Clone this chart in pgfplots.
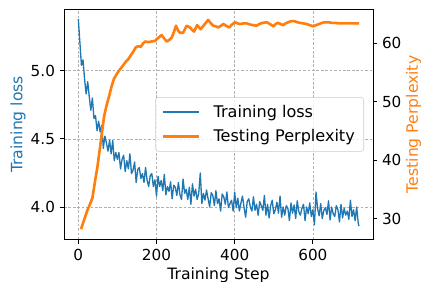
\documentclass[border=0pt]{standalone}
\usepackage{pgfplots}
\pgfplotsset{compat=1.18}
\usepackage{fontspec}
\setmainfont{DejaVu Sans}
\definecolor{cA}{HTML}{1F77B4}
\definecolor{cB}{HTML}{FF7F0E}
\definecolor{gridc}{HTML}{B0B0B0}
\definecolor{legc}{HTML}{CCCCCC}
\pgfplotstableread{
x y
0 5.38
4 5.21
8 5.04
12 5.08
16 4.94
20 4.83
24 4.92
28 4.81
32 4.71
36 4.80
40 4.65
44 4.67
48 4.56
52 4.63
56 4.55
60 4.60
64 4.43
68 4.52
72 4.47
76 4.41
80 4.49
84 4.39
88 4.49
92 4.34
96 4.40
100 4.35
104 4.40
108 4.28
112 4.35
116 4.38
120 4.26
124 4.34
128 4.28
132 4.39
136 4.245
140 4.27
144 4.33
148 4.18
152 4.275
156 4.29
160 4.21
164 4.245
168 4.18
172 4.29
176 4.195
180 4.15
184 4.23
188 4.245
192 4.15
196 4.20
200 4.08
204 4.225
208 4.15
212 4.195
216 4.12
220 4.24
224 4.09
228 4.15
232 4.115
236 4.185
240 4.06
244 4.16
248 4.145
252 4.085
256 4.18
260 4.09
264 4.055
268 4.205
272 4.10
276 4.13
280 4.055
284 4.145
288 4.02
292 4.17
296 4.08
300 4.13
304 4.055
308 4.10
312 4.25
316 4.025
320 4.10
324 4.05
328 4.125
332 4.06
336 4.00
340 4.105
344 4.085
348 4.01
352 4.12
356 4.025
360 4.06
364 3.97
368 4.095
372 4.075
376 4.02
380 4.11
384 3.995
388 4.025
392 4.05
396 3.97
400 4.11
404 3.995
408 4.065
412 3.97
416 4.03
420 4.08
424 3.995
428 3.925
432 4.04
436 4.06
440 4.00
444 3.97
448 4.075
452 3.975
456 4.02
460 3.94
464 4.04
468 4.01
472 3.975
476 4.085
480 3.94
484 4.02
488 3.92
492 4.01
496 4.05
500 3.95
504 3.98
508 4.035
512 3.955
516 4.08
520 3.925
524 4.00
528 3.94
532 4.01
536 3.99
540 3.90
544 4.03
548 3.955
552 4.015
556 3.915
560 4.045
564 3.965
568 3.94
572 3.99
576 4.02
580 3.90
584 4.00
588 3.95
592 4.03
596 3.93
600 3.98
604 3.87
608 4.11
612 3.99
616 3.935
620 4.025
624 3.915
628 3.975
632 3.995
636 3.945
640 4.045
644 3.905
648 4.00
652 3.95
656 3.93
660 4.01
664 3.98
668 3.89
672 4.02
676 3.92
680 3.99
684 3.94
688 3.97
692 3.91
696 4.05
700 3.93
704 3.98
708 3.90
712 4.00
716 3.88
718 3.86
}\losstable
\pgfplotstableread{
x y
7 28.2
15 29.8
23 31.4
30 32.5
36 33.5
43 36.5
49 38.9
55 41.9
60 44.5
66 47.5
72 49.3
79 51.0
85 52.6
91 53.9
98 54.7
104 55.3
112 56.0
121 56.8
128 57.3
134 57.9
140 58.5
147 59.3
153 59.5
160 59.4
166 60.0
171 60.3
179 60.2
187 60.3
196 60.4
204 60.9
213 61.4
220 60.8
226 60.3
233 60.6
239 61.0
245 62.0
250 63.0
255 62.2
260 61.8
268 61.8
277 63.0
286 62.7
291 62.3
296 62.0
304 63.1
313 62.4
320 63.0
324 63.3
332 64.0
338 63.5
345 63.0
352 62.9
358 62.7
365 63.0
371 63.3
378 63.0
386 62.7
393 63.2
401 63.6
407 63.4
414 63.3
422 63.4
431 63.4
440 63.2
448 63.1
456 63.0
463 63.3
472 63.5
482 63.6
490 63.3
499 62.9
505 63.3
510 63.5
517 63.3
524 63.1
530 63.4
537 63.6
545 63.8
552 63.8
560 63.6
567 63.5
576 63.4
584 63.3
592 63.1
601 62.9
608 63.1
616 63.3
624 63.5
631 63.6
640 63.6
648 63.5
657 63.5
665 63.4
674 63.4
686 63.4
699 63.4
710 63.4
718 63.4
}\ppltable
\begin{document}
\begin{tikzpicture}
\useasboundingbox (0,0) rectangle (304.98pt,203.8pt);
\pgfplotsset{
  common/.style={
    scale only axis, width=223.3pt, height=166.7pt,
    at={(46.25pt,30.57pt)}, anchor=south west,
    xmin=-36.6, xmax=753.7,
    tick align=outside, major tick length=3pt,
    every tick/.style={black, line width=0.6pt},
    tick label style={font=\fontsize{11}{13}\selectfont},
    /pgf/number format/assume math mode=true,
    label style={font=\fontsize{11.3}{13}\selectfont},
    axis line style={line width=0.6pt},
  }
}
\begin{axis}[common,
  ymin=3.76, ymax=5.453,
  xtick={0,200,400,600}, ytick={4.0,4.5,5.0},
  xtick pos=bottom, ytick pos=left,
  yticklabel style={/pgf/number format/.cd, fixed, fixed zerofill, precision=1},
  grid=major,
  major grid style={gridc, line width=0.5pt, dash pattern=on 2pt off 1.2pt},
  xlabel={Training Step}, ylabel={Training loss},
  xlabel style={at={(axis description cs:0.5,-0.172)}, anchor=base},
  ylabel style={at={(axis description cs:-0.149,0.5)}, anchor=center, text=cA},
]
\addplot[cA, line width=0.95pt, line join=round] table[x=x,y=y] {\losstable};
\end{axis}
\begin{axis}[common,
  ymin=26.4, ymax=65.86,
  axis x line=none, axis y line*=right,
  ytick={30,40,50,60}, ytick pos=right,
  ylabel={Testing Perplexity},
  ylabel style={at={(axis description cs:1.131,0.5)}, anchor=center, text=cB, rotate=0},
  legend style={at={(axis description cs:0.971,0.5)}, anchor=east,
    draw=legc, rounded corners=2pt, fill=white, fill opacity=0.8, text opacity=1,
    font=\fontsize{11.6}{13}\selectfont, inner xsep=4.5pt, inner ysep=3.5pt,
    row sep=3.5pt},
  legend cell align=left,
  legend image code/.code={\draw[#1] (0pt,0pt) -- (25.7pt,0pt); \path (33.5pt,0pt);},
]
\addlegendimage{cA, line width=0.95pt}
\addlegendentry{Training loss}
\addplot[cB, line width=1.9pt, line join=round] table[x=x,y=y] {\ppltable};
\addlegendentry{Testing Perplexity}
\end{axis}
\end{tikzpicture}
\end{document}
